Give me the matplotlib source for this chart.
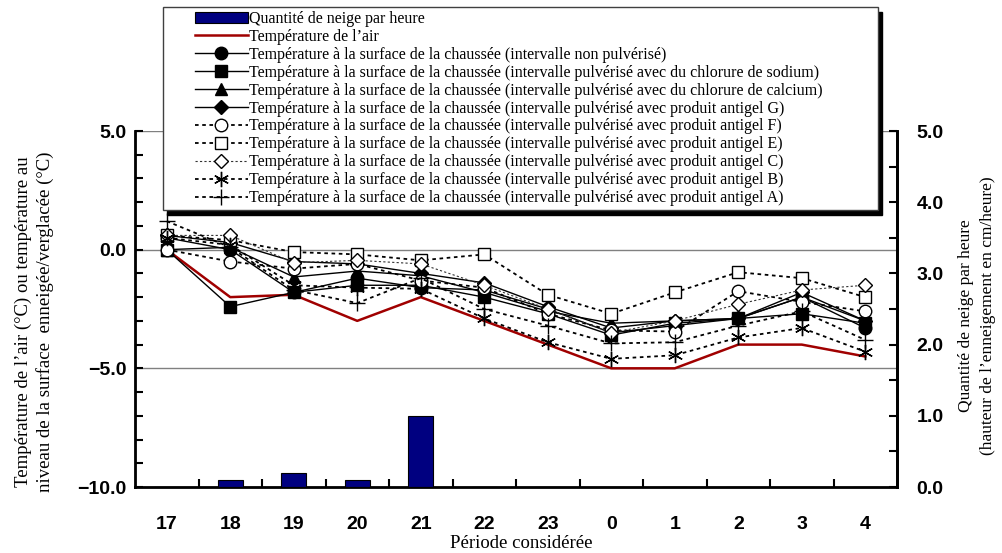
import matplotlib
matplotlib.use('Agg')
import matplotlib.pyplot as plt
from matplotlib.patches import Patch, Rectangle
from matplotlib.lines import Line2D
import numpy as np

hours = ['17', '18', '19', '20', '21', '22', '23', '0', '1', '2', '3', '4']
snow = [0, 0.1, 0.2, 0.1, 1.0, 0, 0, 0, 0, 0, 0, 0]
air_temp = [0, -2.0, -1.9, -3.0, -2.0, -3.0, -4.0, -5.0, -5.0, -4.0, -4.0, -4.5]

non_pulverise = [0.5, 0.0, -1.8, -1.2, -1.6, -1.7, -2.5, -3.5, -3.2, -2.9, -2.0, -3.3]
chlorure_sodium = [0.0, -2.4, -1.8, -1.5, -1.5, -2.0, -2.7, -3.6, -3.1, -2.9, -2.7, -3.1]
chlorure_calcium = [0.0, 0.1, -1.15, -0.9, -1.1, -1.8, -2.6, -3.1, -3.0, -2.9, -2.0, -3.0]
antigel_g = [0.6, 0.3, -0.5, -0.6, -1.0, -1.4, -2.4, -3.3, -3.0, -2.9, -1.8, -3.0]
antigel_f = [0.0, -0.5, -0.8, -0.6, -1.3, -1.6, -2.7, -3.4, -3.45, -1.75, -2.2, -2.6]
antigel_e = [0.6, 0.4, -0.1, -0.2, -0.45, -0.2, -1.9, -2.7, -1.8, -0.95, -1.2, -2.0]
antigel_c = [0.6, 0.6, -0.55, -0.45, -0.6, -1.5, -2.5, -3.5, -3.0, -2.3, -1.7, -1.5]
antigel_b = [0.5, 0.2, -1.5, -1.6, -1.65, -2.9, -3.9, -4.6, -4.45, -3.7, -3.3, -4.3]
antigel_a = [1.2, 0.1, -1.7, -2.25, -1.2, -2.5, -3.2, -3.95, -3.9, -3.2, -2.6, -3.8]

labels = [
    'Quantité de neige par heure',
    'Température de l\u2019air',
    'Température à la surface de la chaussée (intervalle non pulvérisé)',
    'Température à la surface de la chaussée (intervalle pulvérisé avec du chlorure de sodium)',
    'Température à la surface de la chaussée (intervalle pulvérisé avec du chlorure de calcium)',
    'Température à la surface de la chaussée (intervalle pulvérisé avec produit antigel G)',
    'Température à la surface de la chaussée (intervalle pulvérisé avec produit antigel F)',
    'Température à la surface de la chaussée (intervalle pulvérisé avec produit antigel E)',
    'Température à la surface de la chaussée (intervalle pulvérisé avec produit antigel C)',
    'Température à la surface de la chaussée (intervalle pulvérisé avec produit antigel B)',
    'Température à la surface de la chaussée (intervalle pulvérisé avec produit antigel A)',
]

serif = ['Liberation Serif', 'DejaVu Serif']
sans = ['Liberation Sans', 'DejaVu Sans']

dots = (0, (2, 2))
series = [
    (non_pulverise, dict(marker='o', mfc='black', ls='-', lw=1.0, color='black')),
    (chlorure_sodium, dict(marker='s', mfc='black', ls='-', lw=1.0, color='black')),
    (chlorure_calcium, dict(marker='^', mfc='black', ls='-', lw=1.0, color='black')),
    (antigel_g, dict(marker='D', mfc='black', ls='-', lw=1.0, color='black', ms=7)),
    (antigel_f, dict(marker='o', mfc='white', ls=dots, lw=1.3, color='black')),
    (antigel_e, dict(marker='s', mfc='white', ls=dots, lw=1.3, color='black')),
    (antigel_c, dict(marker='D', mfc='white', ls=dots, lw=0.8, color='#333333', mec='black', ms=7)),
    (antigel_b, dict(marker=(6, 2, 0), mfc='white', ls=dots, lw=1.3, color='black', ms=11)),
    (antigel_a, dict(marker='+', mfc='white', ls=dots, lw=1.3, color='black', ms=12)),
]

fig = plt.figure(figsize=(10.02, 5.53), dpi=100)
ax = fig.add_axes([135 / 1002, 1 - 487 / 553, 762 / 1002, 356 / 553])
x = np.arange(len(hours))

for yv in [-5, 0, 5]:
    ax.axhline(yv, color='#808080', lw=1.0, zorder=0)

ax.plot(x, air_temp, color='#a00000', lw=1.8, zorder=2)
handles = [Patch(facecolor='#000080', edgecolor='black', lw=0.8),
           Line2D([], [], color='#a00000', lw=1.8)]
for vals, st in series:
    st = dict(st)
    st.setdefault('ms', 9)
    st.setdefault('mec', 'black')
    st.setdefault('mew', 1.0)
    ax.plot(x, vals, zorder=3, **st)
    handles.append(Line2D([], [], **st))

ax.set_xlim(-0.5, len(hours) - 0.5)
ax.set_ylim(-10, 5)
ax.set_yticks([-10, -5, 0, 5])
ax.set_yticklabels(['\u221210.0', '\u22125.0', '0.0', '5.0'], fontfamily=sans,
                   fontweight='bold', fontsize=14)
ax.set_yticks(np.arange(-10, 6, 1), minor=True)
ax.set_xticks(x)
ax.set_xticklabels(hours, fontfamily=sans, fontweight='bold', fontsize=14)
ax.set_xticks(np.arange(0.5, len(hours) - 1, 1), minor=True)
ax.tick_params(axis='x', which='major', length=0, pad=21)
ax.tick_params(axis='x', which='minor', direction='in', length=6, width=1.5)
ax.tick_params(axis='y', which='both', direction='in', length=6, width=1.5, pad=6)
for side in ['left', 'bottom', 'right']:
    ax.spines[side].set_linewidth(2)
ax.spines['top'].set_visible(False)

ax2 = ax.twinx()
ax2.bar(x, snow, width=0.4, color='#000080', edgecolor='black', lw=0.8)
ax2.set_ylim(0, 5)
ax2.set_yticks([0, 1, 2, 3, 4, 5])
ax2.set_yticklabels(['0.0', '1.0', '2.0', '3.0', '4.0', '5.0'], fontfamily=sans,
                    fontweight='bold', fontsize=14)
ax2.set_yticks(np.arange(0, 5.01, 0.5), minor=True)
ax2.tick_params(axis='y', which='both', direction='in', length=6, width=1.5, pad=14)
ax2.spines['right'].set_linewidth(2)
ax2.spines['top'].set_visible(False)

fig.text(0.034, 0.418, 'Température de l\u2019air (°C) ou température au\nniveau de la surface  enneigée/verglacée (°C)',
         rotation=90, ha='center', va='center', fontfamily=serif, fontsize=13.5, linespacing=1.3)
fig.text(0.975, 0.43, 'Quantité de neige par heure\n(hauteur de l\u2019enneigement en cm/heure)',
         rotation=90, ha='center', va='center', fontfamily=serif, fontsize=12.5, linespacing=1.5)
fig.text(0.52, 0.018, 'Période considérée', ha='center', va='center', fontfamily=serif, fontsize=13.5)

# legend frame with a hard black shadow, drawn by hand
box_x, box_y, box_w, box_h = 163, 7, 715, 203
fig.add_artist(Rectangle(((box_x + 4) / 1002, 1 - (box_y + box_h + 5) / 553), box_w / 1002, box_h / 553,
                         transform=fig.transFigure, facecolor='black', edgecolor='black', zorder=5))
fig.add_artist(Rectangle((box_x / 1002, 1 - (box_y + box_h) / 553), box_w / 1002, box_h / 553,
                         transform=fig.transFigure, facecolor='white', edgecolor='#404040', lw=1.0, zorder=6))

leg = fig.legend(handles, labels, loc='upper left', bbox_to_anchor=(195 / 1002, 1 - 11 / 553),
                 prop={'family': serif, 'size': 11.5}, handlelength=3.3,
                 labelspacing=0.12, borderpad=0.0, handletextpad=0.1, frameon=False,
                 borderaxespad=0)
leg.set_zorder(10)

fig.savefig('out.png', dpi=100)
